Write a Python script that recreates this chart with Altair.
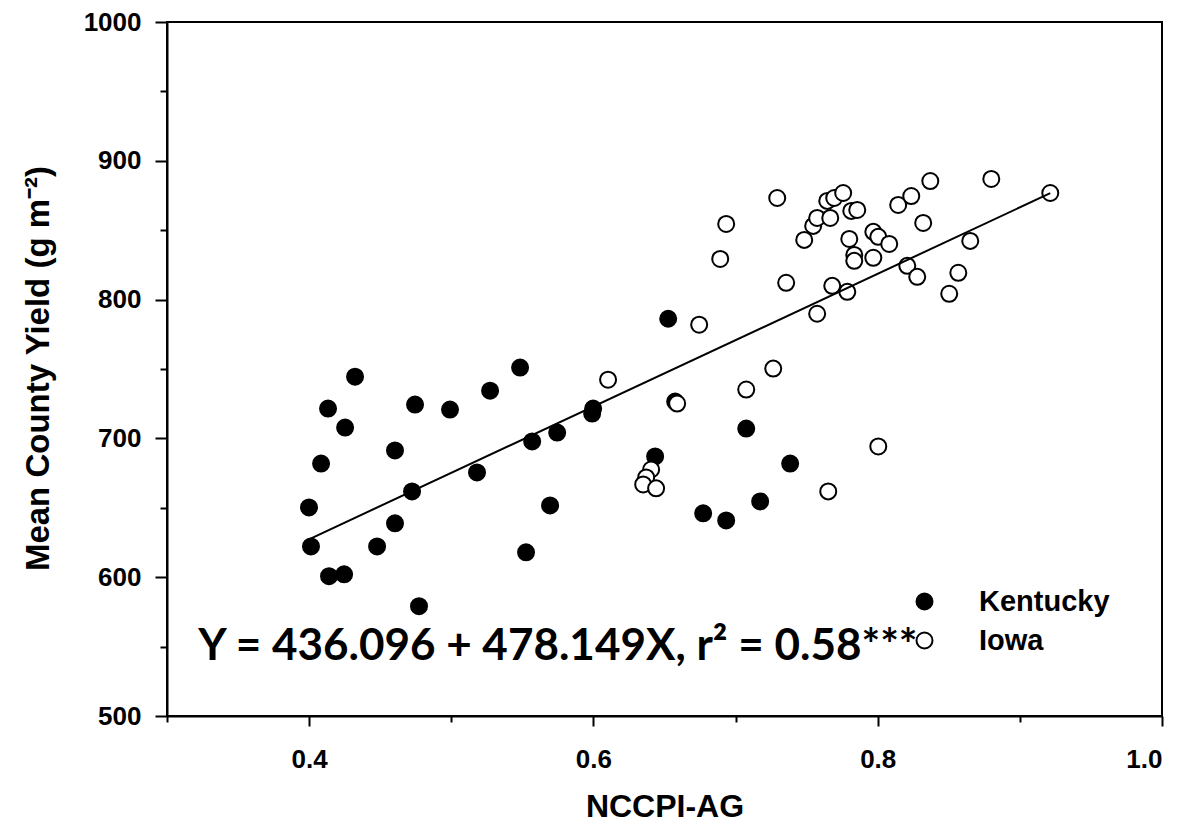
import altair as alt
import pandas as pd

# ---- data ----
ky_x = [0.4323, 0.4133, 0.4253, 0.4084, 0.3999, 0.4013, 0.4140, 0.4246,
        0.4604, 0.4745, 0.4724, 0.4604, 0.4478, 0.4773, 0.4991, 0.5273,
        0.5484, 0.5181, 0.5569, 0.5745, 0.5991, 0.5998, 0.5695, 0.5526,
        0.6526, 0.6575, 0.7075, 0.6434, 0.7384, 0.7173, 0.6772, 0.6934]
ky_y = [744.5, 721.5, 707.8, 681.9, 650.3, 622.2, 600.7, 602.1,
        691.3, 724.4, 661.8, 638.8, 622.2, 579.1, 720.8, 734.4,
        751.0, 675.5, 697.8, 704.2, 717.9, 721.5, 651.7, 617.9,
        786.2, 726.5, 707.1, 687.0, 681.9, 654.6, 646.0, 640.9]

ia_x = [0.6103, 0.6744, 0.6589, 0.7075, 0.7265, 0.6406, 0.6371, 0.6350,
        0.6441, 0.8004, 0.7652, 0.7356, 0.7293, 0.6934, 0.6892, 0.7574,
        0.7680, 0.7786, 0.7483, 0.7546, 0.7574, 0.7666, 0.7645, 0.7694,
        0.7757, 0.7814, 0.7856, 0.7800, 0.7835, 0.7835, 0.7969, 0.7969,
        0.8004, 0.8081, 0.8144, 0.8236, 0.8320, 0.8370, 0.8208, 0.8278,
        0.8799, 0.9214, 0.8651, 0.8567, 0.8503]
ia_y = [742.3, 781.9, 725.1, 735.2, 750.3, 677.6, 671.9, 666.8,
        664.0, 694.2, 661.8, 812.1, 873.2, 854.5, 829.3, 789.8,
        809.9, 805.6, 843.0, 853.1, 858.8, 858.8, 871.1, 873.2,
        876.8, 863.9, 864.6, 843.7, 832.2, 827.9, 830.1, 848.8,
        845.2, 840.1, 868.2, 874.6, 855.2, 885.4, 824.3, 816.4,
        886.9, 876.8, 842.3, 819.3, 804.2]

states = ["Kentucky", "Iowa"]
intercept = 436.096
slope = 478.149
r2 = 0.58

x_ticks = [0.3, 0.4, 0.5, 0.6, 0.7, 0.8, 0.9, 1.0]
y_ticks = [500, 550, 600, 650, 700, 750, 800, 850, 900, 950, 1000]

df = pd.DataFrame({
    "x": ky_x + ia_x,
    "y": ky_y + ia_y,
    "state": ["Kentucky"] * len(ky_x) + ["Iowa"] * len(ia_x),
})

x_ends = [min(df["x"]), max(df["x"])]
fit = pd.DataFrame({"x": x_ends, "y": [intercept + slope * v for v in x_ends]})

FONT = "Liberation Sans"

x_axis = alt.Axis(
    values=x_ticks,
    labelExpr="round(datum.value*10) % 2 == 0 ? format(datum.value, '.1f') : ''",
    tickSize={"condition": {"test": "round(datum.value*10) % 2 == 0", "value": 10}, "value": 6},
    grid=False,
    domainColor="black", domainWidth=2,
    tickColor="black", tickWidth=2,
    labelFont=FONT, labelFontSize=26, labelFontWeight="bold", labelColor="black",
    labelPadding=20,
    title="NCCPI-AG",
    titleFont=FONT, titleFontSize=32, titleFontWeight="bold", titleColor="black",
    titleX=497.5, titleY=100, titleBaseline="alphabetic", titleAlign="center",
)

y_axis = alt.Axis(
    values=y_ticks,
    format="d",
    labelExpr="datum.value % 100 == 0 ? datum.label : ''",
    tickSize={"condition": {"test": "datum.value % 100 == 0", "value": 12}, "value": 7},
    grid=False,
    domainColor="black", domainWidth=2,
    tickColor="black", tickWidth=2,
    labelFont=FONT, labelFontSize=26, labelFontWeight="bold", labelColor="black",
    labelPadding=14,
    title="Mean County Yield (g m⁻²)",
    titleFont=FONT, titleFontSize=33, titleFontWeight="bold", titleColor="black",
    titleAngle=270, titleX=-119, titleY=346, titleBaseline="alphabetic", titleAlign="center",
)

x_enc = alt.X("x:Q", scale=alt.Scale(domain=[0.3, 1.0], nice=False, zero=False), axis=x_axis)
y_enc = alt.Y("y:Q", scale=alt.Scale(domain=[500, 1000], nice=False, zero=False), axis=y_axis)

points = alt.Chart(df).mark_point(
    shape="circle", size=256, stroke="black", strokeWidth=2, opacity=1, fillOpacity=1
).encode(
    x=x_enc,
    y=y_enc,
    fill=alt.Fill(
        "state:N",
        scale=alt.Scale(domain=states, range=["black", "white"]),
        legend=alt.Legend(
            orient="none", legendX=743, legendY=565, title=None,
            labelFont=FONT, labelFontSize=29, labelFontWeight="bold", labelColor="black",
            symbolType="circle", symbolSize=256, symbolStrokeColor="black",
            symbolStrokeWidth=2, rowPadding=9, labelOffset=40, padding=0,
        ),
    ),
)

line = alt.Chart(fit).mark_line(color="black", strokeWidth=2).encode(x="x:Q", y="y:Q")

eq_text = f"Y = {intercept:.3f} + {slope:.3f}X, r² = {r2:.2f}***"
eq = alt.Chart(pd.DataFrame({"t": [eq_text]})).mark_text(
    font="Lato", fontSize=44, fontWeight="bold", align="left", baseline="alphabetic", color="black"
).encode(
    x=alt.datum(0.322),
    y=alt.datum(540.3),
    text="t:N",
)

chart = alt.layer(points, line, eq).properties(
    width=995, height=694,
    autosize=alt.AutoSizeParams(type="none"),
    padding={"left": 159, "top": 14, "right": 15, "bottom": 109},
).configure_view(stroke="black", strokeWidth=2)

chart.save("out.html", embed_options={"renderer": "svg", "actions": False})
